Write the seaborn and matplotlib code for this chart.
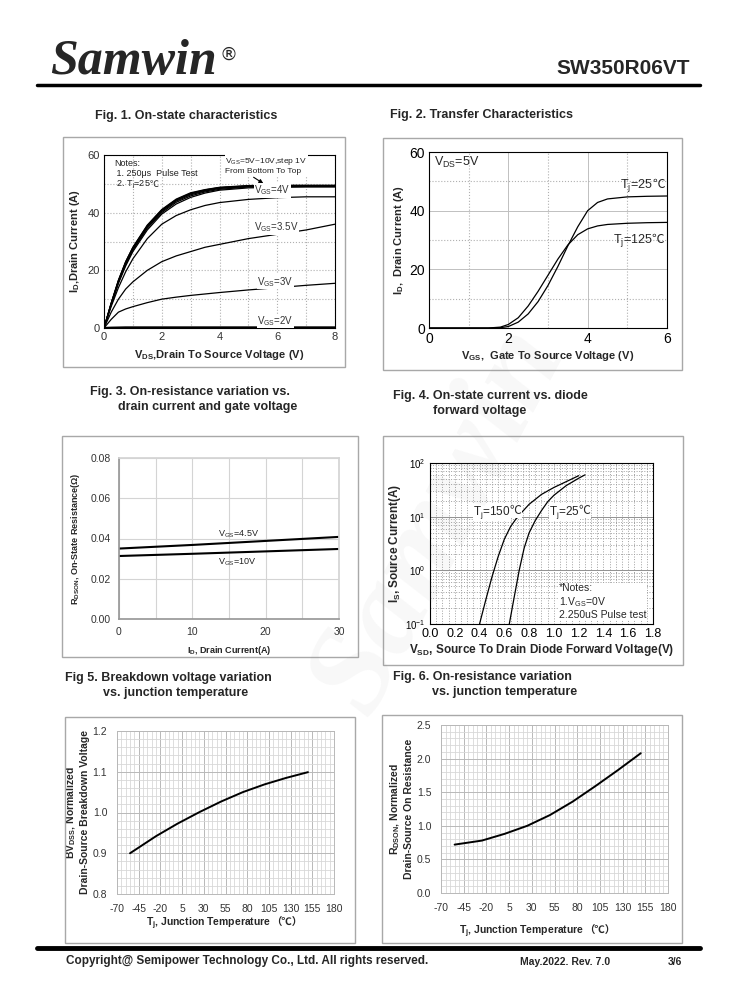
import matplotlib
matplotlib.use("Agg")
import matplotlib.pyplot as plt
import matplotlib.patches as patches
from matplotlib.ticker import MultipleLocator, FixedLocator
import seaborn as sns
import numpy as np
import pandas as pd

sns.set_theme(style="white")
plt.rcParams['font.family'] = ['Liberation Sans', 'DejaVu Sans', 'Noto Sans CJK SC']
plt.rcParams['mathtext.fontset'] = 'custom'
plt.rcParams['mathtext.rm'] = 'Liberation Sans'
plt.rcParams['mathtext.it'] = 'Liberation Sans'
plt.rcParams['mathtext.bf'] = 'Liberation Sans:bold'
plt.rcParams['mathtext.default'] = 'regular'
plt.rcParams['axes.unicode_minus'] = False

# ---- Fig 1 data: output characteristics
vds = [0, 0.25, 0.5, 0.75, 1, 1.5, 2, 2.5, 3, 3.5, 4, 5, 6, 7, 8]
id_vgs2 = [0, 0.1, 0.15, 0.2, 0.2, 0.2, 0.2, 0.2, 0.2, 0.2, 0.2, 0.2, 0.2, 0.2, 0.2]
id_vgs3 = [0, 3.0, 5.5, 6.6, 7.4, 8.8, 10.0, 10.7, 11.3, 11.8, 12.3, 13.2, 14.0, 14.8, 15.5]
id_vgs35 = [0, 5.5, 10.0, 13.5, 16.0, 20.0, 23.0, 25.0, 26.5, 28.0, 29.0, 31.0, 32.5, 34.0, 36.0]
id_vgs4 = [0, 7.5, 14.0, 19.5, 24.0, 31.0, 36.0, 39.0, 41.0, 42.5, 43.5, 44.6, 45.2, 45.5, 45.5]
id_high = {
    "5V": [0, 8.0, 15.5, 21.5, 26.5, 34.0, 39.5, 43.0, 45.3, 46.8, 47.8, 48.6, 48.8, 48.9, 48.9],
    "6V": [0, 8.2, 15.8, 22.0, 27.0, 34.6, 40.0, 43.6, 45.8, 47.2, 48.1, 48.9, 49.0, 49.1, 49.1],
    "7V": [0, 8.4, 16.1, 22.4, 27.4, 35.0, 40.4, 44.0, 46.2, 47.5, 48.4, 49.1, 49.2, 49.2, 49.2],
    "8V": [0, 8.5, 16.3, 22.7, 27.7, 35.3, 40.7, 44.3, 46.5, 47.7, 48.6, 49.2, 49.3, 49.3, 49.3],
    "9V": [0, 8.6, 16.5, 22.9, 27.9, 35.5, 40.9, 44.5, 46.7, 47.9, 48.7, 49.3, 49.4, 49.4, 49.4],
    "10V": [0, 8.7, 16.6, 23.0, 28.0, 35.7, 41.1, 44.7, 46.9, 48.0, 48.8, 49.4, 49.5, 49.5, 49.5],
}

# ---- Fig 2 data: transfer characteristics
vgs = [0, 1.0, 1.5, 1.8, 2.0, 2.25, 2.5, 2.75, 3.0, 3.25, 3.5, 3.75, 4.0, 4.25, 4.5, 5.0, 5.5, 6.0]
id_25 = [0, 0, 0, 0.1, 0.5, 2.0, 4.8, 9.0, 14.5, 21.0, 28.0, 34.5, 40.0, 42.8, 44.0, 44.7, 44.9, 45.0]
id_125 = [0, 0, 0, 0.3, 1.2, 3.5, 7.5, 12.5, 18.0, 23.5, 28.3, 31.8, 33.8, 34.8, 35.3, 35.7, 35.9, 36.0]

# ---- Fig 3 data: on-resistance vs drain current
id_r = [0, 10, 20, 30]
rds_45 = [0.0350, 0.0368, 0.0388, 0.0408]
rds_10 = [0.0313, 0.0324, 0.0336, 0.0348]

# ---- Fig 4 data: body diode forward
vsd_150 = [0.40, 0.45, 0.50, 0.55, 0.60, 0.65, 0.70, 0.80, 0.90, 1.00, 1.10, 1.20]
is_150 = [0.1, 0.28, 0.75, 1.8, 3.8, 6.5, 9.5, 17.0, 26.0, 35.0, 45.0, 58.0]
vsd_25 = [0.64, 0.68, 0.72, 0.76, 0.80, 0.85, 0.90, 0.95, 1.00, 1.10, 1.20, 1.25]
is_25 = [0.1, 0.32, 1.0, 2.6, 5.0, 8.5, 13.0, 19.0, 25.0, 38.0, 52.0, 60.0]

# ---- Fig 5 / Fig 6 data: temperature dependence
tj = [-55, -25, 0, 25, 50, 75, 100, 125, 150]
bvdss = [0.900, 0.942, 0.973, 1.001, 1.027, 1.050, 1.069, 1.085, 1.099]
rdson = [0.72, 0.78, 0.88, 1.00, 1.16, 1.36, 1.59, 1.83, 2.08]
tj_ticks = [-70, -45, -20, 5, 30, 55, 80, 105, 130, 155, 180]

W, H = 738, 1000
fig = plt.figure(figsize=(W / 100, H / 100), dpi=100)
fig.patch.set_facecolor("white")
renderer = fig.canvas.get_renderer()
CJK = ["Noto Sans CJK SC", "DejaVu Sans"]


def px_axes(l, t, r, b):
    return fig.add_axes([l / W, 1 - b / H, (r - l) / W, (b - t) / H])


def fig_text(x, y, s, **kw):
    return fig.text(x / W, 1 - y / H, s, **kw)


def unit_text(ax, x, y, s, unit, transform=None, bbox=None, gap=-1.0, **kw):
    # mathtext part, then the CJK-only unit glued on the same baseline
    if transform is None:
        transform = ax.transData
    t = fig.text(x, y, s, transform=transform, va="baseline", ha="left", bbox=bbox, **kw)
    bb = t.get_window_extent(renderer)
    _, yb = transform.transform((x, y))
    fig.text((bb.x1 + gap) / W, yb / H, unit, transform=fig.transFigure, va="baseline",
             ha="left", family=CJK, bbox=bbox, **kw)


def frame(l, t, r, b):
    fig.patches.append(patches.Rectangle((l / W, 1 - b / H), (r - l) / W, (b - t) / H,
                                         transform=fig.transFigure, fill=False,
                                         edgecolor="#a8a8a8", lw=1.0, zorder=0))


def hline(x0, x1, y, lw):
    fig.add_artist(plt.Line2D([x0 / W, x1 / W], [1 - y / H, 1 - y / H],
                              transform=fig.transFigure, color="black", lw=lw))


# header / footer
fig_text(50, 62, "Samwin", family="Liberation Serif", style="italic", weight="bold",
         fontsize=36, va="center", ha="left")
fig_text(219, 55, "®", family="DejaVu Sans", fontsize=13, va="center", ha="left")
fig_text(690, 68, "SW350R06VT", weight="bold", fontsize=15, va="center", ha="right")
hline(37, 700, 85, 2.5)
hline(37, 700, 948, 3.5)
fig_text(66, 961, "Copyright@ Semipower Technology Co., Ltd. All rights reserved.",
         weight="bold", fontsize=8.5, va="center")
fig_text(520, 962, "May.2022. Rev. 7.0", weight="bold", fontsize=7.5, va="center")
fig_text(668, 962, "3/6", weight="bold", fontsize=7.5, va="center")

# figure captions
tkw = dict(weight="bold", fontsize=9, va="center", ha="left")
fig_text(95, 116, "Fig. 1. On-state characteristics", **tkw)
fig_text(390, 115, "Fig. 2. Transfer Characteristics", **tkw)
fig_text(90, 392, "Fig. 3. On-resistance variation vs.", **tkw)
fig_text(118, 407, "drain current and gate voltage", **tkw)
fig_text(393, 396, "Fig. 4. On-state current vs. diode", **tkw)
fig_text(433, 411, "forward voltage", **tkw)
fig_text(65, 678, "Fig 5. Breakdown voltage variation", **tkw)
fig_text(103, 693, "vs. junction temperature", **tkw)
fig_text(393, 677, "Fig. 6. On-resistance variation", **tkw)
fig_text(432, 692, "vs. junction temperature", **tkw)

frame(63, 137, 345, 367)
frame(383, 138, 682, 370)
frame(62, 436, 358, 657)
frame(383, 436, 683, 665)
frame(65, 717, 355, 943)
frame(382, 715, 682, 943)

lab = dict(weight="bold", fontsize=8)
tick_color = "#333333"


def black_frame(ax):
    for s in ax.spines.values():
        s.set_visible(True)
        s.set_color("black")
        s.set_linewidth(0.8)
    ax.tick_params(direction="in", length=3, width=0.7, labelsize=8, colors="black",
                   labelcolor=tick_color, pad=3)
    ax.tick_params(which="minor", direction="in", length=2, width=0.6)


# ---------------- Fig 1
ax1 = px_axes(104, 155, 335, 328)
sns.lineplot(x=vds, y=id_vgs2, ax=ax1, color="black", lw=1.6)
for y in (id_vgs3, id_vgs35, id_vgs4):
    sns.lineplot(x=vds, y=y, ax=ax1, color="black", lw=0.9)
for k, y in id_high.items():
    sns.lineplot(x=vds, y=y, ax=ax1, color="black", lw=0.9)
ax1.set_xlim(0, 8)
ax1.set_ylim(0, 60)
ax1.xaxis.set_major_locator(MultipleLocator(2))
ax1.xaxis.set_minor_locator(MultipleLocator(1))
ax1.yaxis.set_major_locator(MultipleLocator(20))
ax1.yaxis.set_minor_locator(MultipleLocator(10))
ax1.grid(which="both", color="#b0b0b0", ls=":", lw=0.8)
black_frame(ax1)
ax1.set_xlabel("V$_{DS}$,Drain To Source Voltage (V)", labelpad=4, **lab)
ax1.set_ylabel("I$_D$,Drain Current (A)", labelpad=4, **lab)
note = dict(fontsize=6.5, color="#222222")
ax1.text(0.35, 56.2, "Notes:", va="baseline", **note)
ax1.text(0.35, 52.6, " 1. 250μs  Pulse Test", va="baseline", **note)
unit_text(ax1, 0.35, 49.0, " 2. T$_j$=25 ", "℃", **note)
ax1.text(4.2, 59.5, "V$_{GS}$=5V~10V,step 1V\nFrom Bottom To Top", fontsize=6,
         va="top", color="#222222", linespacing=1.2,
         bbox=dict(facecolor="white", edgecolor="none", pad=0.3))
ax1.annotate("", xy=(5.6, 49.6), xytext=(5.1, 52.8),
             arrowprops=dict(arrowstyle="-|>", color="black", lw=0.8, mutation_scale=6))
small = dict(fontsize=7, color="#333333", bbox=dict(facecolor="white", edgecolor="none", pad=0.3))
ax1.text(5.2, 46.6, "V$_{GS}$=4V", **small)
ax1.text(5.2, 33.8, "V$_{GS}$=3.5V", **small)
ax1.text(5.3, 15.0, "V$_{GS}$=3V", **small)
ax1.text(5.3, 1.4, "V$_{GS}$=2V", **small)

# ---------------- Fig 2
ax2 = px_axes(429, 152, 667, 328)
sns.lineplot(x=vgs, y=id_25, ax=ax2, color="black", lw=0.9)
sns.lineplot(x=vgs, y=id_125, ax=ax2, color="black", lw=0.9)
ax2.set_xlim(0, 6)
ax2.set_ylim(0, 60)
ax2.xaxis.set_major_locator(MultipleLocator(2))
ax2.xaxis.set_minor_locator(MultipleLocator(1))
ax2.yaxis.set_major_locator(MultipleLocator(20))
ax2.yaxis.set_minor_locator(MultipleLocator(10))
ax2.grid(which="major", color="#c0c0c0", ls="-", lw=0.7)
ax2.grid(which="minor", color="#b0b0b0", ls=":", lw=0.8)
black_frame(ax2)
ax2.tick_params(labelsize=10, labelcolor="black")
ax2.set_xlabel("V$_{GS}$,  Gate To Source Voltage (V)", labelpad=2, **lab)
ax2.set_ylabel("I$_D$,  Drain Current (A)", labelpad=2, **lab)
ax2.text(0.12, 56.5, "V$_{DS}$=5V", fontsize=9, va="center")
unit_text(ax2, 4.82, 47.6, "T$_j$=25", "℃", fontsize=9)
unit_text(ax2, 4.64, 29.0, "T$_j$=125", "℃", fontsize=9)

# ---------------- Fig 3
ax3 = px_axes(119, 458, 339, 619)
sns.lineplot(x=id_r, y=rds_45, ax=ax3, color="black", lw=1.5)
sns.lineplot(x=id_r, y=rds_10, ax=ax3, color="black", lw=1.5)
ax3.set_xlim(0, 30)
ax3.set_ylim(0, 0.08)
ax3.xaxis.set_major_locator(MultipleLocator(10))
ax3.xaxis.set_minor_locator(MultipleLocator(5))
ax3.yaxis.set_major_locator(MultipleLocator(0.02))
ax3.yaxis.set_major_formatter(matplotlib.ticker.FormatStrFormatter("%.2f"))
ax3.grid(which="both", color="#d4d4d4", ls="-", lw=0.8)
for s in ax3.spines.values():
    s.set_color("#d4d4d4")
ax3.spines["left"].set_color("#999999")
ax3.spines["bottom"].set_color("#999999")
ax3.tick_params(length=0, labelsize=7.5, labelcolor="#333333", pad=6)
ax3.tick_params(which="minor", length=0)
ax3.set_xlabel("I$_D$, Drain Current(A)", weight="bold", fontsize=6.5, labelpad=5)
ax3.set_ylabel("R$_{DSON}$, On-State Resistance(Ω)", weight="bold", fontsize=6.5, labelpad=6)
ax3.text(13.5, 0.0412, "V$_{GS}$=4.5V", fontsize=6.5, color="#222222")
ax3.text(13.5, 0.0272, "V$_{GS}$=10V", fontsize=6.5, color="#222222")

# ---------------- Fig 4
ax4 = px_axes(430, 463, 653, 624)
sns.lineplot(x=vsd_150, y=is_150, ax=ax4, color="black", lw=0.9)
sns.lineplot(x=vsd_25, y=is_25, ax=ax4, color="black", lw=0.9)
ax4.set_yscale("log")
ax4.set_xlim(0, 1.8)
ax4.set_ylim(0.1, 100)
ax4.xaxis.set_major_locator(MultipleLocator(0.2))
ax4.xaxis.set_minor_locator(MultipleLocator(0.05))
ax4.xaxis.set_major_formatter(matplotlib.ticker.FormatStrFormatter("%.1f"))
ax4.yaxis.set_major_locator(FixedLocator([0.1, 1, 10, 100]))
ax4.yaxis.set_major_formatter(matplotlib.ticker.FixedFormatter(
    ["10$^{-1}$", "10$^{0}$", "10$^{1}$", "10$^{2}$"]))
ax4.grid(which="major", axis="y", color="#909090", ls="-", lw=0.7)
ax4.grid(which="minor", axis="y", color="#a0a0a0", ls=":", lw=0.7)
ax4.grid(which="both", axis="x", color="#a0a0a0", ls=":", lw=0.7)
black_frame(ax4)
ax4.tick_params(labelsize=9, labelcolor="black")
ax4.tick_params(axis="y", labelsize=7)
ax4.set_xlabel("V$_{SD}$, Source To Drain Diode Forward Voltage(V)", labelpad=1, fontsize=8.5,
               weight="bold")
ax4.set_ylabel("I$_S$, Source Current(A)", labelpad=2, fontsize=8.5, weight="bold")
wb = dict(facecolor="white", edgecolor="none", pad=0.2)
unit_text(ax4, 0.35, 11.0, "T$_j$=150", "℃", fontsize=8.5, bbox=wb)
unit_text(ax4, 0.96, 11.0, "T$_j$=25", "℃", fontsize=8.5, bbox=wb)
ax4.text(1.04, 0.12, "*Notes:\n1.V$_{GS}$=0V\n2.250uS Pulse test", fontsize=7.5,
         va="bottom", linespacing=1.15,
         bbox=dict(facecolor="white", edgecolor="none", pad=0.5))


# ---------------- Fig 5 / 6
def temp_axes(ax, ylo, yhi, ystep, yminor, fmt, xlab_x, xlab_y):
    ax.set_xlim(-70, 180)
    ax.set_ylim(ylo, yhi)
    ax.xaxis.set_major_locator(FixedLocator(tj_ticks))
    ax.xaxis.set_minor_locator(MultipleLocator(5))
    ax.yaxis.set_major_locator(MultipleLocator(ystep))
    ax.yaxis.set_minor_locator(MultipleLocator(yminor))
    ax.yaxis.set_major_formatter(matplotlib.ticker.FormatStrFormatter(fmt))
    ax.grid(which="major", color="#b8b8b8", ls="-", lw=0.7)
    ax.grid(which="minor", color="#d8d8d8", ls="-", lw=0.6)
    for s in ax.spines.values():
        s.set_color("#b8b8b8")
        s.set_linewidth(0.7)
    ax.tick_params(length=0, labelsize=7.5, labelcolor="#333333", pad=7)
    ax.tick_params(which="minor", length=0)
    unit_text(ax, xlab_x / W, 1 - xlab_y / H, "T$_j$, Junction Temperature ", "（℃）",
              transform=fig.transFigure, weight="bold", fontsize=7.5, gap=0)


ax5 = px_axes(117, 731, 334, 894)
sns.lineplot(x=tj, y=bvdss, ax=ax5, color="black", lw=1.4)
temp_axes(ax5, 0.8, 1.2, 0.1, 0.02, "%.1f", 146, 926)
ax5.set_ylabel("BV$_{DSS}$, Normalized\nDrain-Source Breakdown Voltage", weight="bold",
               fontsize=7.5, labelpad=2, linespacing=1.25)

ax6 = px_axes(441, 725, 668, 893)
sns.lineplot(x=tj, y=rdson, ax=ax6, color="black", lw=1.4)
temp_axes(ax6, 0.0, 2.5, 0.5, 0.1, "%.1f", 459, 934)
ax6.set_ylabel("R$_{DSON}$, Normalized\nDrain-Source On Resistance", weight="bold",
               fontsize=7.5, labelpad=2, linespacing=1.25)

# faint watermark
fig_text(440, 520, "Samwin", family="Liberation Serif", style="italic", weight="bold",
         fontsize=90, rotation=62, color="#888888", alpha=0.06, ha="center", va="center",
         zorder=10)

fig.savefig("out.png", dpi=100, facecolor="white")
